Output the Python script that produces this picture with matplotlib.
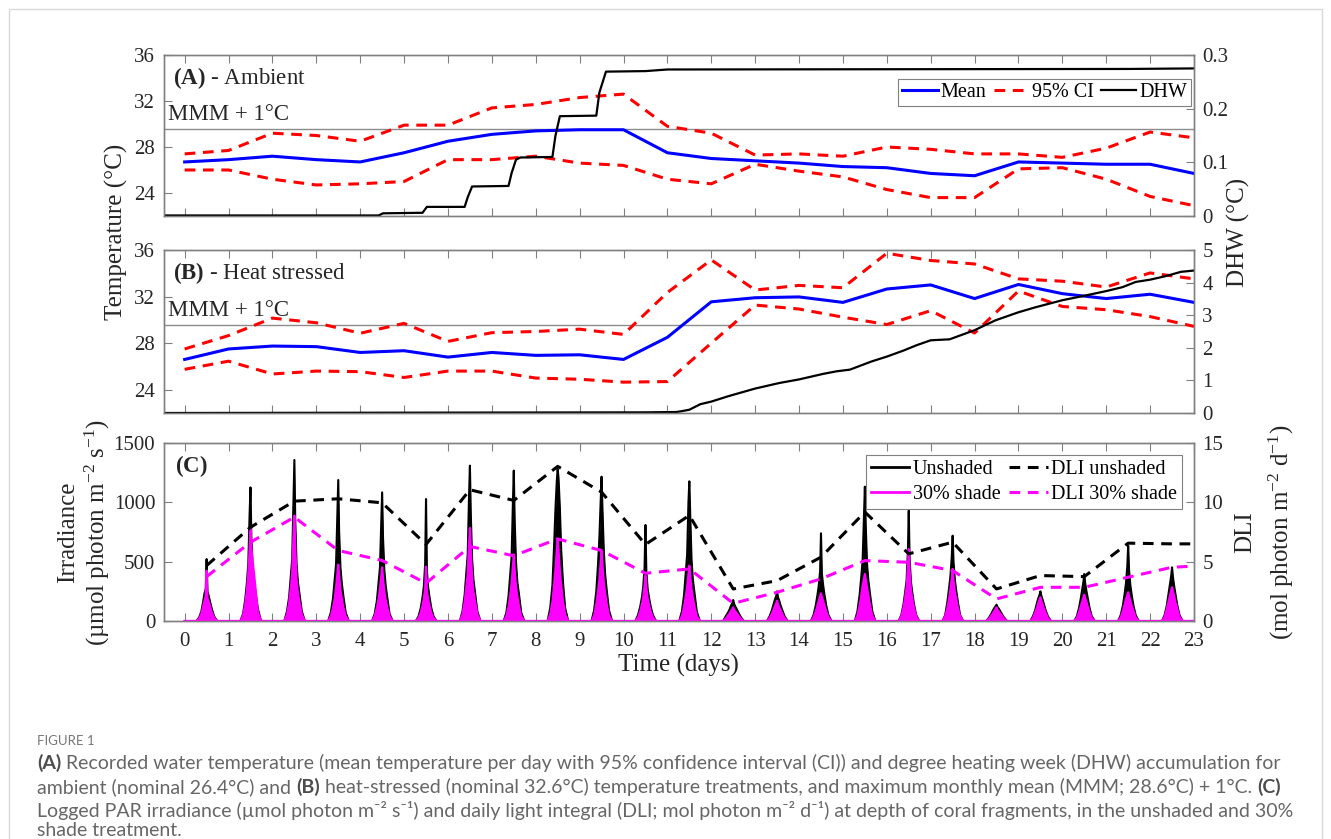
import matplotlib
matplotlib.use("Agg")
import matplotlib.pyplot as plt
import numpy as np
from matplotlib.lines import Line2D
from matplotlib.patches import Rectangle
from matplotlib.transforms import IdentityTransform

plt.rcParams["font.family"] = ["Liberation Serif", "DejaVu Serif"]
plt.rcParams["mathtext.fontset"] = "custom"
plt.rcParams["mathtext.rm"] = "Liberation Serif"
plt.rcParams["mathtext.bf"] = "Liberation Serif:bold"
plt.rcParams["mathtext.it"] = "Liberation Serif:italic"

# ── Data ─────────────────────────────────────────────────────────────────────
days = list(range(24))

amb_mean = [26.7, 26.9, 27.2, 26.9, 26.7, 27.5, 28.5, 29.1, 29.4, 29.5, 29.5, 27.5,
            27.0, 26.8, 26.6, 26.3, 26.2, 25.7, 25.5, 26.7, 26.6, 26.5, 26.5, 25.7]
amb_upper = [27.4, 27.7, 29.2, 29.0, 28.5, 29.9, 29.9, 31.4, 31.7, 32.3, 32.6, 29.8,
             29.2, 27.3, 27.4, 27.2, 28.0, 27.8, 27.4, 27.4, 27.1, 27.9, 29.3, 28.8]
amb_lower = [26.0, 26.0, 25.2, 24.7, 24.8, 25.0, 26.9, 26.9, 27.2, 26.6, 26.4, 25.2,
             24.8, 26.5, 25.9, 25.4, 24.3, 23.6, 23.6, 26.1, 26.2, 25.2, 23.7, 22.9]
amb_dhw_t = [-0.45, 4.42, 4.52, 5.42, 5.52, 6.38, 6.45, 6.55, 7.38, 7.45, 7.55, 7.65,
             8.38, 8.45, 8.55, 9.38, 9.45, 9.6, 10.5, 11.0, 21.5, 23.0]
amb_dhw = [0.001, 0.001, 0.005, 0.006, 0.017, 0.017, 0.035, 0.055, 0.056, 0.08, 0.105,
           0.109, 0.11, 0.15, 0.186, 0.187, 0.23, 0.269, 0.27, 0.273, 0.274, 0.275]

hs_mean = [26.6, 27.5, 27.75, 27.7, 27.2, 27.35, 26.8, 27.2, 26.95, 27.0, 26.6, 28.5,
           31.55, 31.9, 31.97, 31.5, 32.65, 33.0, 31.83, 33.04, 32.25, 31.83, 32.2, 31.5]
hs_upper = [27.5, 28.65, 30.15, 29.75, 28.85, 29.7, 28.15, 28.9, 29.0, 29.2, 28.75, 32.35,
            35.15, 32.56, 32.96, 32.76, 35.72, 35.1, 34.8, 33.52, 33.32, 32.82, 34.03, 33.52]
hs_lower = [25.75, 26.45, 25.35, 25.6, 25.55, 25.05, 25.6, 25.6, 25.0, 24.9, 24.65, 24.7,
            28.0, 31.27, 30.93, 30.23, 29.6, 30.79, 28.87, 32.48, 31.15, 30.87, 30.28, 29.44]
hs_dhw_t = [-0.45, 10.5, 11.2, 11.3, 11.5, 11.75, 12.0, 12.4, 13.0, 13.55, 14.0, 14.55,
            14.86, 15.16, 15.65, 16.0, 16.37, 16.68, 17.0, 17.43, 18.0, 18.47, 19.0, 19.38,
            20.0, 20.37, 21.0, 21.37, 21.67, 22.0, 22.36, 22.7, 23.0]
hs_dhw = [0.0, 0.02, 0.03, 0.05, 0.1, 0.27, 0.35, 0.52, 0.75, 0.92, 1.03, 1.2, 1.28,
          1.33, 1.58, 1.73, 1.91, 2.08, 2.23, 2.26, 2.54, 2.84, 3.09, 3.24, 3.46, 3.56,
          3.74, 3.86, 4.02, 4.09, 4.2, 4.33, 4.37]

mmm_plus1 = 29.6

# irradiance: sample times within each day, one row of readings per day
irr_offsets = [0.27, 0.33, 0.38, 0.42, 0.45, 0.48, 0.50, 0.52, 0.55, 0.58, 0.62, 0.67, 0.74]
irr_unshaded = [
    [0, 30, 80, 160, 230, 270, 522, 250, 210, 160, 100, 40, 0],
    [0, 60, 180, 330, 480, 900, 1126, 700, 450, 330, 230, 100, 0],
    [0, 80, 200, 380, 520, 1000, 1357, 850, 480, 330, 220, 80, 0],
    [0, 70, 190, 350, 480, 900, 1188, 750, 450, 320, 200, 70, 0],
    [0, 60, 170, 330, 450, 850, 1084, 700, 430, 300, 190, 60, 0],
    [0, 40, 110, 200, 290, 480, 1028, 420, 280, 200, 110, 40, 0],
    [0, 80, 220, 420, 560, 1050, 1309, 900, 520, 350, 230, 80, 0],
    [0, 70, 210, 400, 540, 1000, 1267, 850, 500, 330, 220, 70, 0],
    [0, 110, 300, 650, 950, 1180, 1281, 1200, 950, 600, 330, 110, 0],
    [0, 90, 250, 480, 700, 1000, 1216, 950, 600, 400, 250, 90, 0],
    [0, 50, 120, 200, 290, 450, 809, 420, 270, 200, 120, 50, 0],
    [0, 80, 220, 420, 560, 1000, 1177, 900, 520, 350, 230, 80, 0],
    [0, 40, 70, 100, 130, 150, 177, 145, 120, 100, 70, 35, 0],
    [0, 40, 90, 140, 180, 210, 250, 200, 170, 130, 90, 40, 0],
    [0, 50, 130, 220, 300, 420, 739, 400, 300, 220, 130, 50, 0],
    [0, 80, 220, 380, 520, 900, 1132, 800, 480, 340, 220, 80, 0],
    [0, 50, 140, 250, 340, 580, 930, 520, 330, 240, 140, 50, 0],
    [0, 50, 160, 280, 380, 540, 719, 500, 350, 260, 160, 50, 0],
    [0, 30, 60, 90, 110, 125, 138, 120, 105, 85, 60, 30, 0],
    [0, 40, 90, 150, 190, 220, 250, 215, 180, 140, 90, 40, 0],
    [0, 40, 110, 190, 260, 330, 396, 320, 250, 190, 110, 40, 0],
    [0, 50, 130, 230, 320, 460, 635, 430, 300, 220, 130, 50, 0],
    [0, 50, 130, 230, 310, 380, 452, 370, 290, 220, 130, 50, 0],
]
irr_shaded = [
    [0, 20, 60, 120, 170, 210, 424, 190, 160, 120, 70, 30, 0],
    [0, 45, 140, 260, 400, 600, 775, 620, 500, 400, 250, 70, 0],
    [0, 55, 150, 280, 400, 720, 888, 620, 350, 240, 150, 55, 0],
    [0, 40, 110, 190, 280, 400, 475, 380, 260, 190, 110, 40, 0],
    [0, 40, 110, 190, 270, 380, 452, 360, 250, 180, 110, 40, 0],
    [0, 25, 70, 130, 190, 270, 458, 250, 180, 130, 70, 25, 0],
    [0, 55, 160, 290, 400, 650, 784, 600, 360, 250, 160, 55, 0],
    [0, 40, 120, 220, 320, 460, 560, 430, 290, 210, 120, 40, 0],
    [0, 55, 160, 310, 440, 600, 691, 590, 420, 300, 170, 55, 0],
    [0, 45, 140, 250, 350, 500, 593, 480, 330, 240, 140, 45, 0],
    [0, 30, 80, 140, 200, 300, 382, 280, 190, 140, 80, 30, 0],
    [0, 40, 120, 210, 290, 400, 466, 380, 270, 200, 120, 40, 0],
    [0, 20, 45, 65, 85, 100, 115, 95, 80, 65, 45, 20, 0],
    [0, 25, 60, 95, 125, 150, 171, 140, 115, 90, 60, 25, 0],
    [0, 30, 80, 130, 170, 210, 233, 200, 170, 130, 80, 30, 0],
    [0, 45, 130, 220, 300, 360, 396, 350, 280, 220, 130, 45, 0],
    [0, 40, 110, 200, 280, 450, 607, 420, 260, 190, 110, 40, 0],
    [0, 40, 110, 190, 270, 360, 438, 340, 250, 190, 110, 40, 0],
    [0, 20, 45, 65, 85, 100, 115, 95, 80, 65, 45, 20, 0],
    [0, 25, 70, 110, 150, 180, 200, 170, 140, 105, 70, 25, 0],
    [0, 25, 75, 125, 165, 200, 222, 190, 160, 120, 75, 25, 0],
    [0, 30, 85, 140, 185, 220, 242, 210, 170, 130, 85, 30, 0],
    [0, 35, 100, 165, 215, 260, 284, 250, 205, 155, 100, 35, 0],
]

dli_t = [0.5, 1.5, 2.5, 3.5, 4.5, 5.5, 6.5, 7.5, 8.5, 9.5, 10.5, 11.5, 12.5, 13.5,
         14.5, 15.5, 16.5, 17.5, 18.5, 19.5, 20.5, 21.5, 22.5, 23.0]
dli_unshaded = [4.67, 7.9, 10.1, 10.3, 9.96, 6.45, 11.06, 10.16, 13.03, 10.86, 6.45, 8.9,
                2.7, 3.4, 5.38, 9.18, 5.66, 6.64, 2.7, 3.83, 3.74, 6.56, 6.5, 6.5]
dli_shaded = [3.74, 6.64, 8.75, 5.94, 5.1, 3.18, 6.28, 5.5, 6.92, 5.94, 4.02, 4.39,
              1.49, 2.42, 3.55, 5.09, 4.95, 4.25, 1.86, 2.84, 2.84, 3.69, 4.53, 4.62]

# ── Style ────────────────────────────────────────────────────────────────────
SPINE = "#808080"
TXT = "#262626"
TICK_FS = 15
LAB_FS = 18
XLIM = (-0.48, 23)

fig = plt.figure(figsize=(13.31, 8.39), dpi=100)
fig.patches.append(Rectangle((9 / 1331, -0.05), 1313 / 1331, 1.05 - 9 / 839,
                             transform=fig.transFigure, fill=False,
                             edgecolor="#d9d9d9", linewidth=1.0))

L, W = 163.6 / 1331, (1194 - 163.6) / 1331
axA = fig.add_axes([L, 1 - 216 / 839, W, 161 / 839])
axB = fig.add_axes([L, 1 - 413 / 839, W, 163 / 839])
axC = fig.add_axes([L, 1 - 621 / 839, W, 178 / 839])


def style(ax, twin):
    for a in (ax, twin):
        for s in a.spines.values():
            s.set_color(SPINE)
            s.set_linewidth(1.0)
    ax.set_xlim(*XLIM)
    ax.set_xticks(range(24))
    ax.tick_params(axis="x", direction="in", top=True, length=6, color=SPINE,
                   labelsize=TICK_FS, labelcolor=TXT, pad=8)
    ax.tick_params(axis="y", direction="in", length=6, color=SPINE,
                   labelsize=TICK_FS, labelcolor=TXT, pad=6)
    twin.tick_params(axis="y", direction="in", length=6, color=SPINE,
                     labelsize=TICK_FS, labelcolor=TXT, pad=6)


dash = (0, (3.5, 2.5))
for ax, mean, up, lo, dt, dv, rlim, rticks, rlabels, title in [
    (axA, amb_mean, amb_upper, amb_lower, amb_dhw_t, amb_dhw, (0, 0.3),
     [0, 0.1, 0.2, 0.3], ["0", "0.1", "0.2", "0.3"], r"$\mathbf{(A)}$ - Ambient"),
    (axB, hs_mean, hs_upper, hs_lower, hs_dhw_t, hs_dhw, (0, 5),
     [0, 1, 2, 3, 4, 5], ["0", "1", "2", "3", "4", "5"], r"$\mathbf{(B)}$ - Heat stressed"),
]:
    tw = ax.twinx()
    style(ax, tw)
    ax.axhline(mmm_plus1, color="#8c8c8c", linewidth=1.0, zorder=1)
    ax.plot(days, up, color="#ff0000", linestyle=dash, linewidth=2.2, zorder=3)
    ax.plot(days, lo, color="#ff0000", linestyle=dash, linewidth=2.2, zorder=3)
    ax.plot(days, mean, color="#0000ff", linewidth=2.2, zorder=4)
    ax.set_ylim(22, 36)
    ax.set_yticks([24, 28, 32, 36])
    ax.set_xticklabels([])
    tw.plot(dt, dv, color="black", linewidth=1.6)
    tw.set_ylim(*rlim)
    tw.set_yticks(rticks)
    tw.set_yticklabels(rlabels)
    tw.set_xlim(*XLIM)
    ax.text(0.009, 0.86, title, transform=ax.transAxes, fontsize=16.5,
            va="center", ha="left", color=TXT)
    ax.text(0.004, 0.63, "MMM + 1°C", transform=ax.transAxes, fontsize=16.5,
            va="center", ha="left", color=TXT)
    if ax is axA:
        handles = [Line2D([], [], color="#0000ff", linewidth=2.2),
                   Line2D([], [], color="#ff0000", linestyle=dash, linewidth=2.2),
                   Line2D([], [], color="black", linewidth=1.6)]
        leg = tw.legend(handles, ["Mean", "95% CI", "DHW"], ncol=3,
                        loc="upper right", bbox_to_anchor=(0.997, 0.85),
                        fontsize=14.5, frameon=True, fancybox=False,
                        edgecolor=SPINE, framealpha=1, handlelength=1.75,
                        handletextpad=0.15, columnspacing=0.35, borderpad=0.2,
                        borderaxespad=0)
        leg.get_frame().set_linewidth(0.8)

# ── Panel C ──────────────────────────────────────────────────────────────────
t_irr, u_irr, s_irr = [0.0], [0.0], [0.0]
for d in range(len(irr_unshaded)):
    t_irr += [d + o for o in irr_offsets]
    u_irr += irr_unshaded[d]
    s_irr += irr_shaded[d]
t_irr.append(23.0)
u_irr.append(0.0)
s_irr.append(0.0)

twC = axC.twinx()
style(axC, twC)
axC.fill_between(t_irr, 0, u_irr, color="black", linewidth=0, zorder=2)
axC.plot(t_irr, u_irr, color="black", linewidth=1.5, zorder=2)
axC.fill_between(t_irr, 0, s_irr, color="#ff00ff", linewidth=0, zorder=3)
axC.plot(t_irr, s_irr, color="#ff00ff", linewidth=1.6, zorder=3)
axC.set_ylim(0, 1500)
axC.set_yticks([0, 500, 1000, 1500])
axC.set_xlabel("Time (days)", fontsize=LAB_FS, color=TXT, labelpad=2)

twC.plot(dli_t, dli_unshaded, color="black", linestyle=dash, linewidth=2.2)
twC.plot(dli_t, dli_shaded, color="#ff00ff", linestyle=dash, linewidth=2.2)
twC.set_ylim(0, 15)
twC.set_yticks([0, 5, 10, 15])
twC.set_xlim(*XLIM)
axC.text(0.011, 0.87, r"$\mathbf{(C)}$", transform=axC.transAxes, fontsize=16.5,
         va="center", ha="left", color=TXT)

handles = [Line2D([], [], color="black", linewidth=2.0),
           Line2D([], [], color="#ff00ff", linewidth=2.0),
           Line2D([], [], color="black", linestyle=dash, linewidth=2.2),
           Line2D([], [], color="#ff00ff", linestyle=dash, linewidth=2.2)]
leg = twC.legend(handles, ["Unshaded", "30% shade", "DLI unshaded", "DLI 30% shade"],
                 ncol=2, loc="upper right", bbox_to_anchor=(0.988, 0.935),
                 fontsize=14.5, frameon=True, fancybox=False, edgecolor=SPINE,
                 framealpha=1, handlelength=1.9, handletextpad=0.15,
                 columnspacing=0.45, borderpad=0.25, labelspacing=0.3,
                 borderaxespad=0)
leg.get_frame().set_linewidth(0.8)

# ── Axis titles ──────────────────────────────────────────────────────────────
fig.text(116 / 1331, 1 - 232 / 839, "Temperature (°C)", rotation=90,
         fontsize=LAB_FS, ha="center", va="center", color=TXT)
fig.text(1238 / 1331, 1 - 232 / 839, "DHW (°C)", rotation=90,
         fontsize=LAB_FS, ha="center", va="center", color=TXT)
fig.text(68 / 1331, 1 - 532 / 839, "Irradiance", rotation=90,
         fontsize=LAB_FS, ha="center", va="center", color=TXT)
fig.text(97 / 1331, 1 - 532 / 839, r"(µmol photon m$^{-2}$ s$^{-1}$)", rotation=90,
         fontsize=LAB_FS, ha="center", va="center", color=TXT)
fig.text(1245 / 1331, 1 - 532 / 839, "DLI", rotation=90,
         fontsize=LAB_FS, ha="center", va="center", color=TXT)
fig.text(1281 / 1331, 1 - 532 / 839, r"(mol photon m$^{-2}$ d$^{-1}$)", rotation=90,
         fontsize=LAB_FS, ha="center", va="center", color=TXT)

# ── Caption ──────────────────────────────────────────────────────────────────
CAP_FONT = ["Lato", "DejaVu Sans"]
CAP_COL = "#666666"
fig.text(37, 839 - 741, "FIGURE 1", transform=IdentityTransform(), fontsize=9.5,
         family=CAP_FONT, color="#777777", va="center")

caption = [
    (763, [("(A)", "bold"), (" Recorded water temperature (mean temperature per day with 95% "
                             "confidence interval (CI)) and degree heating week (DHW) "
                             "accumulation for", "normal")]),
    (787, [("ambient (nominal 26.4°C) and ", "normal"), ("(B)", "bold"),
           (" heat-stressed (nominal 32.6°C) temperature treatments, and maximum monthly "
            "mean (MMM; 28.6°C) + 1°C. ", "normal"), ("(C)", "bold")]),
    (810, [("Logged PAR irradiance (µmol photon m⁻² s⁻¹) and daily light integral "
            "(DLI; mol photon m⁻² d⁻¹) at depth of coral fragments, in the unshaded and 30%",
            "normal")]),
    (831, [("shade treatment.", "normal")]),
]
renderer = fig.canvas.get_renderer()
# size the caption font so the first line spans the width seen in the figure
probe = fig.text(0, 0, "".join(r[0] for r in caption[0][1]), fontsize=12,
                 family=CAP_FONT, transform=IdentityTransform())
cap_fs = 12 * 1236 / probe.get_window_extent(renderer).width
probe.remove()
for yc, runs in caption:
    x = 37.0
    for txt, wt in runs:
        t = fig.text(x, 839 - yc, txt, transform=IdentityTransform(), fontsize=cap_fs,
                     family=CAP_FONT, fontweight=wt,
                     color="#4d4d4d" if wt == "bold" else CAP_COL, va="center")
        x += t.get_window_extent(renderer).width

fig.savefig("out.png", dpi=100)
